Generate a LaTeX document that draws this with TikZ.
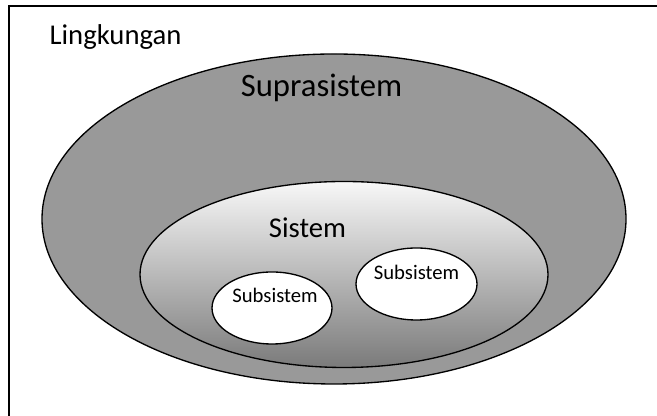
\documentclass[tikz,border=0pt]{standalone}
\usepackage{fontspec}
\setmainfont{Carlito}
\begin{document}
\begin{tikzpicture}[x=0.75pt, y=0.75pt, line width=1pt,
	big/.style={font=\fontsize{24.5}{28}\selectfont, anchor=base},
	mid/.style={font=\fontsize{21.5}{25}\selectfont, anchor=base},
	small/.style={font=\fontsize{15.5}{18}\selectfont, anchor=base}]
	\useasboundingbox (0,0) rectangle (657,416);
	\draw (9,0) -- (9,410) -- (657,410);
	
	\draw[fill=black!40] (334,197) ellipse [x radius=292, y radius=165];
	\draw[top color=black!3, bottom color=black!52] (344,141.5) ellipse [x radius=204, y radius=93];
	\draw[fill=white] (272,108) ellipse [x radius=60, y radius=36];
	\draw[fill=white] (416.5,132) ellipse [x radius=60.5, y radius=36];
	
	\draw (115.5,371) node[mid] (lingk) {Lingkungan};
	\draw (321.5,319) node[big] (supra) {Suprasistem};
	\draw (307.5,178) node[mid] (sist) {Sistem};
	\draw (275,113) node[small] (sub1) {Subsistem};
	\draw (416.5,136) node[small] (sub2) {Subsistem};
\end{tikzpicture}
\end{document}
